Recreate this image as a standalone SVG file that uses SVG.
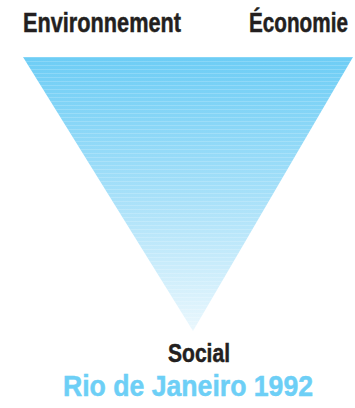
<svg xmlns="http://www.w3.org/2000/svg" width="355" height="408" viewBox="0 0 355 408">
<defs>
<linearGradient id="g" x1="0" y1="57" x2="0" y2="331" gradientUnits="userSpaceOnUse">
<stop offset="0" stop-color="#6dcdf5"/>
<stop offset="0.5" stop-color="#a6e0f9"/>
<stop offset="1" stop-color="#eaf7fd"/>
</linearGradient>
<pattern id="s" x="0" y="57" width="10" height="4" patternUnits="userSpaceOnUse">
<rect x="0" y="0" width="10" height="1" fill="#ffffff" fill-opacity="0.18"/>
</pattern>
<style>
.lbl{font-family:"Liberation Sans",Arial,sans-serif;font-weight:bold;fill:#231f20;stroke:#231f20;stroke-width:0.5;}
.title{font-family:"Liberation Sans",Arial,sans-serif;font-weight:bold;fill:#6dcff6;stroke:#6dcff6;stroke-width:0.5;}
</style>
</defs>
<g id="triangle">
<polygon points="23,57 353,57 193,331" fill="url(#g)"/>
<polygon points="23,57 353,57 193,331" fill="url(#s)"/>
</g>
<g id="environnement"><text class="lbl" x="23" y="32" font-size="27" textLength="158" lengthAdjust="spacingAndGlyphs">Environnement</text></g>
<g id="economie" transform="translate(249,32) scale(0.767,1)"><text class="lbl" x="0" y="0" font-size="27">Économie</text></g>
<g id="social"><text class="lbl" x="168" y="362" font-size="26" textLength="62" lengthAdjust="spacingAndGlyphs">Social</text></g>
<g id="rio"><text class="title" x="63" y="396" font-size="29" textLength="250" lengthAdjust="spacingAndGlyphs">Rio de Janeiro 1992</text></g>
<g id="connectors"></g>
</svg>
